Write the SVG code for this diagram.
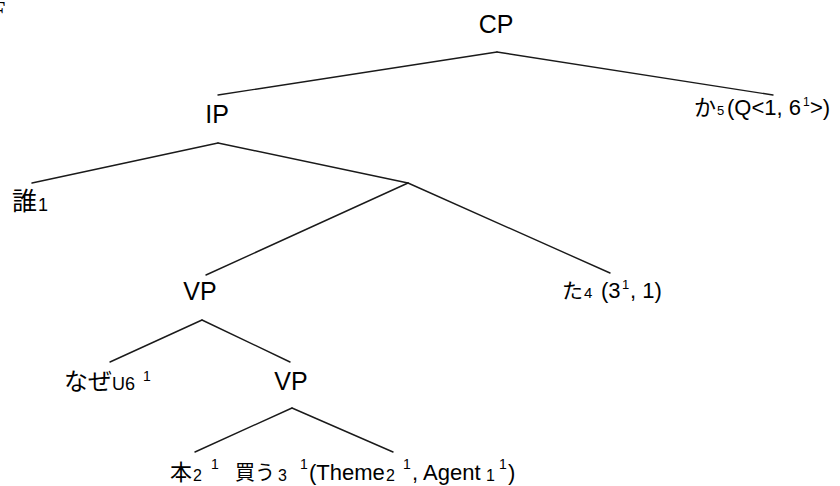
<svg xmlns="http://www.w3.org/2000/svg" width="840" height="486" viewBox="0 0 840 486">
<style>
.lat{font-family:"Liberation Sans",Arial,sans-serif;fill:#000}
.jp{font-family:"Noto Sans CJK JP","Liberation Sans",sans-serif;fill:#000}
.lbl{font-size:25px}
.m{font-size:22px}
.edge{stroke:#1a1a1a;stroke-width:1.4;fill:none;stroke-linecap:round}
</style>
<rect width="840" height="486" fill="#fff"/>
<text x="-9" y="19" font-family="'Liberation Serif',serif" font-size="26" fill="#000">F</text>
<g id="connectors">
<line class="edge" x1="497" y1="52" x2="218" y2="95"/>
<line class="edge" x1="497" y1="52" x2="773" y2="95"/>
<line class="edge" x1="218" y1="143" x2="32" y2="183"/>
<line class="edge" x1="218" y1="143" x2="408" y2="183"/>
<line class="edge" x1="408" y1="183" x2="206" y2="275"/>
<line class="edge" x1="408" y1="183" x2="610" y2="273"/>
<line class="edge" x1="202" y1="320" x2="110" y2="362"/>
<line class="edge" x1="202" y1="320" x2="290" y2="362"/>
<line class="edge" x1="292" y1="408" x2="195" y2="452"/>
<line class="edge" x1="292" y1="408" x2="393" y2="452"/>
</g>
<g id="node-CP"><text class="lat lbl" x="496" y="33" text-anchor="middle">CP</text></g>
<g id="node-IP"><text class="lat lbl" x="217" y="123" text-anchor="middle">IP</text></g>
<g id="node-ka"><text class="lat m"><tspan class="jp" x="694" y="115" font-size="22">か</tspan><tspan x="717" y="115" font-size="13">5</tspan><tspan x="727" y="115">(Q&lt;1, 6</tspan><tspan x="803" y="106" font-size="12">1</tspan><tspan x="810" y="115">&gt;)</tspan></text></g>
<g id="node-dare"><text class="lat"><tspan class="jp" x="12" y="210" font-size="25">誰</tspan><tspan x="38" y="211" font-size="18">1</tspan></text></g>
<g id="node-VP1"><text class="lat lbl" x="200" y="300" text-anchor="middle">VP</text></g>
<g id="node-ta"><text class="lat m"><tspan class="jp" x="562" y="298" font-size="21">た</tspan><tspan x="584" y="298" font-size="15">4</tspan><tspan x="601" y="298">(3</tspan><tspan x="622" y="289" font-size="13">1</tspan><tspan x="630" y="298">, 1)</tspan></text></g>
<g id="node-naze"><text class="lat"><tspan class="jp" x="64" y="390" font-size="24">なぜ</tspan><tspan x="112" y="390" font-size="18">U6</tspan><tspan x="143" y="381" font-size="14">1</tspan></text></g>
<g id="node-VP2"><text class="lat lbl" x="291" y="390" text-anchor="middle">VP</text></g>
<g id="node-hon"><text class="lat"><tspan class="jp" x="170" y="480" font-size="22">本</tspan><tspan x="193" y="481" font-size="16">2</tspan><tspan x="211" y="469" font-size="14">1</tspan></text></g>
<g id="node-kau"><text class="lat m"><tspan class="jp" x="235" y="480" font-size="20">買う</tspan><tspan x="278" y="481" font-size="16">3</tspan><tspan x="300" y="469" font-size="14">1</tspan><tspan x="309" y="480">(Theme</tspan><tspan x="386" y="481" font-size="16">2</tspan><tspan x="403" y="469" font-size="14">1</tspan><tspan x="412" y="480">, Agent</tspan><tspan x="486" y="481" font-size="16">1</tspan><tspan x="499" y="469" font-size="14">1</tspan><tspan x="508" y="480">)</tspan></text></g>
</svg>
